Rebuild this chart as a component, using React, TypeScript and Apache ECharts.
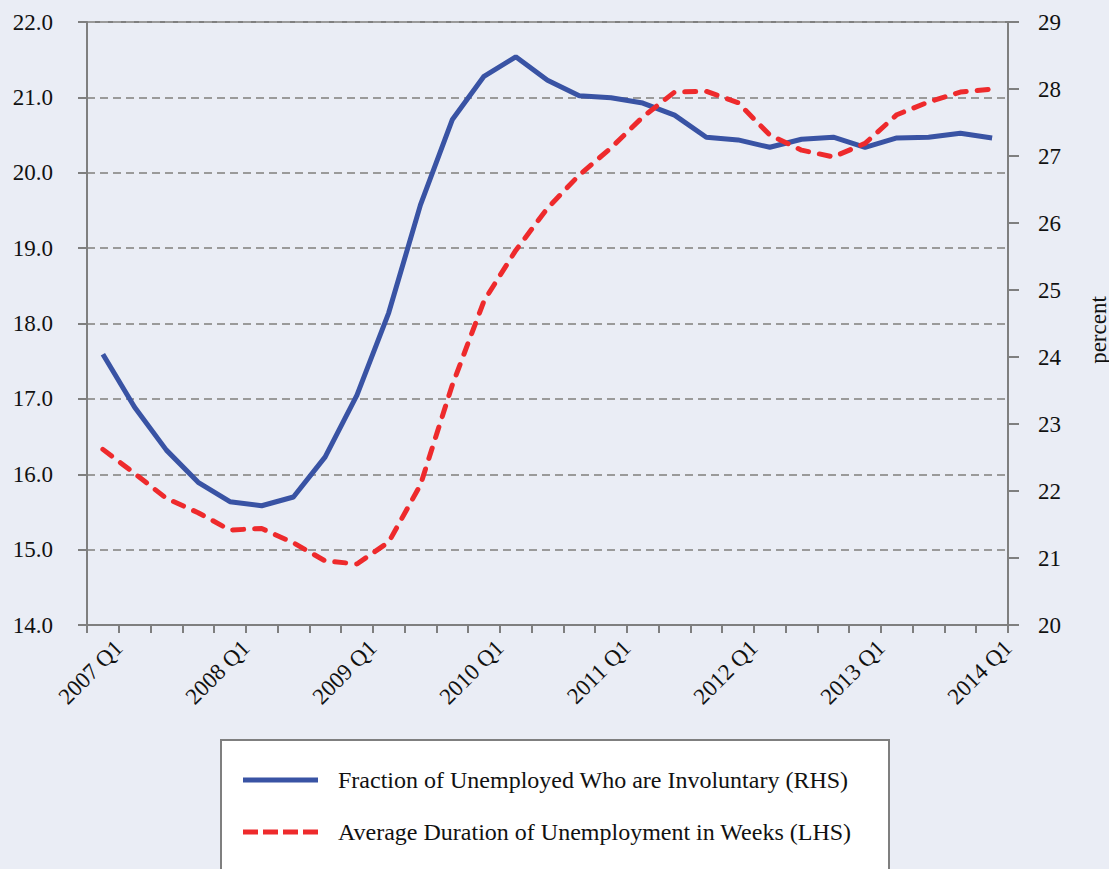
import React, { useEffect, useRef } from "react";
import * as echarts from "echarts";

const quarters: string[] = [
  "2007 Q1", "2007 Q2", "2007 Q3", "2007 Q4",
  "2008 Q1", "2008 Q2", "2008 Q3", "2008 Q4",
  "2009 Q1", "2009 Q2", "2009 Q3", "2009 Q4",
  "2010 Q1", "2010 Q2", "2010 Q3", "2010 Q4",
  "2011 Q1", "2011 Q2", "2011 Q3", "2011 Q4",
  "2012 Q1", "2012 Q2", "2012 Q3", "2012 Q4",
  "2013 Q1", "2013 Q2", "2013 Q3", "2013 Q4",
  "2014 Q1",
];

// Fraction of unemployed who are involuntary (RHS, percent)
const involuntary: number[] = [
  24.04, 23.25, 22.61, 22.13, 21.84, 21.78, 21.91, 22.51,
  23.43, 24.66, 26.27, 27.54, 28.19, 28.48, 28.13, 27.9,
  27.87, 27.79, 27.61, 27.28, 27.24, 27.13, 27.25, 27.28,
  27.13, 27.27, 27.28, 27.34, 27.27,
];

// Average duration of unemployment in weeks (LHS)
const duration: number[] = [
  16.33, 16.01, 15.68, 15.49, 15.26, 15.28, 15.09, 14.85,
  14.81, 15.1, 15.86, 17.18, 18.3, 18.97, 19.53, 19.97,
  20.33, 20.74, 21.07, 21.08, 20.93, 20.5, 20.3, 20.21,
  20.39, 20.77, 20.94, 21.07, 21.11,
];

const seriesNames: string[] = [
  "Fraction of Unemployed Who are Involuntary (RHS)",
  "Average Duration of Unemployment in Weeks (LHS)",
];

const boundaryLabels: string[] = ["", ...quarters];

const FONT = "'Liberation Serif', 'DejaVu Serif', serif";
const AXIS_GRAY = "#7f7f7f";
const BLUE = "#3953a4";
const RED = "#ee2a2c";

const SOLID_ICON = "path://M0,0 H75 V5 H0 Z";
const DASH_ICON =
  "path://M0,0 H15 V5 H0 Z M20,0 H35 V5 H20 Z M40,0 H55 V5 H40 Z M60,0 H75 V5 H60 Z";

export default function App() {
  const ref = useRef<HTMLDivElement>(null);

  useEffect(() => {
    if (!ref.current) return;
    const chart = echarts.init(ref.current, undefined, { renderer: "svg" });
    const option: any = {
      animation: false,
      backgroundColor: "#eaedf5",
      textStyle: { fontFamily: FONT },
      grid: {
        left: 87,
        right: 101,
        top: 22,
        bottom: 244,
        show: true,
        borderColor: AXIS_GRAY,
        borderWidth: 2,
        backgroundColor: "transparent",
      },
      xAxis: [
        {
          type: "category",
          data: quarters,
          boundaryGap: true,
          position: "bottom",
          axisLine: { show: true, lineStyle: { color: AXIS_GRAY, width: 2 } },
          axisTick: {
            show: true,
            interval: 0,
            length: 8,
            lineStyle: { color: AXIS_GRAY, width: 2 },
          },
          axisLabel: { show: false },
          splitLine: { show: false },
        },
        {
          type: "category",
          data: boundaryLabels,
          boundaryGap: false,
          position: "bottom",
          axisLine: { show: false },
          axisTick: { show: false },
          splitLine: { show: false },
          axisLabel: {
            show: true,
            interval: (idx: number) => idx % 4 === 1,
            rotate: 45,
            margin: 19,
            fontSize: 23,
            fontFamily: FONT,
            color: "#111",
          },
        },
      ],
      yAxis: [
        {
          type: "value",
          min: 14,
          max: 22,
          interval: 1,
          position: "left",
          axisLine: { show: true, lineStyle: { color: AXIS_GRAY, width: 2 } },
          axisTick: {
            show: true,
            inside: false,
            length: 9,
            lineStyle: { color: AXIS_GRAY, width: 2 },
          },
          axisLabel: {
            formatter: (v: number) => v.toFixed(1),
            fontSize: 23,
            fontFamily: FONT,
            color: "#111",
            margin: 34,
          },
          splitLine: {
            show: true,
            lineStyle: { color: "#9a9a9a", width: 2, type: [8, 5] },
          },
        },
        {
          type: "value",
          min: 20,
          max: 29,
          interval: 1,
          position: "right",
          axisLine: { show: true, lineStyle: { color: AXIS_GRAY, width: 2 } },
          axisTick: {
            show: true,
            inside: false,
            length: 11,
            lineStyle: { color: AXIS_GRAY, width: 2 },
          },
          axisLabel: {
            fontSize: 23,
            fontFamily: FONT,
            color: "#111",
            margin: 30,
          },
          splitLine: { show: false },
        },
      ],
      legend: {
        orient: "vertical",
        left: 243,
        top: 767,
        padding: 0,
        itemWidth: 75,
        itemHeight: 5,
        itemGap: 26,
        selectedMode: false,
        formatter: (name: string) => `{s|}${name}`,
        textStyle: {
          fontSize: 24,
          lineHeight: 26,
          fontFamily: FONT,
          color: "#111",
          rich: {
            s: { width: 15, lineHeight: 26 },
          },
        },
        data: [
          { name: seriesNames[0], icon: SOLID_ICON, itemStyle: { color: BLUE } },
          { name: seriesNames[1], icon: DASH_ICON, itemStyle: { color: RED } },
        ],
      },
      graphic: [
        {
          type: "rect",
          z: 0,
          shape: { x: 221, y: 740, width: 668, height: 140 },
          style: { fill: "#ffffff", stroke: AXIS_GRAY, lineWidth: 2 },
        },
        {
          type: "text",
          x: 1098,
          y: 330,
          rotation: Math.PI / 2,
          style: {
            text: "percent",
            font: `23px ${FONT}`,
            fill: "#111",
            textAlign: "center",
            textVerticalAlign: "middle",
          },
        },
      ],
      series: [
        {
          name: seriesNames[0],
          type: "line",
          xAxisIndex: 0,
          yAxisIndex: 1,
          data: involuntary,
          symbol: "none",
          color: BLUE,
          lineStyle: { color: BLUE, width: 5 },
          z: 3,
        },
        {
          name: seriesNames[1],
          type: "line",
          xAxisIndex: 0,
          yAxisIndex: 0,
          data: duration,
          symbol: "none",
          color: RED,
          lineStyle: { color: RED, width: 5, type: [11, 11], cap: "round" },
          z: 4,
        },
      ],
    };
    chart.setOption(option);
    return () => chart.dispose();
  }, []);

  return (
    <div
      ref={ref}
      style={{ position: "absolute", left: 0, top: 0, width: 1109, height: 869 }}
    />
  );
}
